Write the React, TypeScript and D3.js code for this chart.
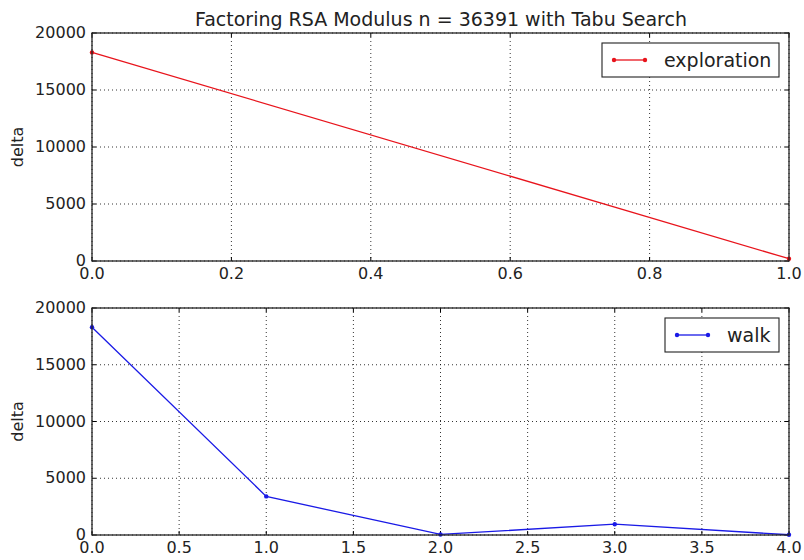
import React from 'react';
import * as d3 from 'd3';

// values
const explorationX = [0, 1];
const explorationY = [18300, 200];
const walkX = [0, 1, 2, 3, 4];
const walkY = [18300, 3400, 50, 950, 20];
const yTicks = [0, 5000, 10000, 15000, 20000];
const topXTicks = [0, 0.2, 0.4, 0.6, 0.8, 1.0];
const bottomXTicks = [0, 0.5, 1, 1.5, 2, 2.5, 3, 3.5, 4];

const W = 804;
const H = 560;
const left = 92;
const right = 789;
const font = 'DejaVu Sans, sans-serif';

type PanelProps = {
  xs: number[];
  ys: number[];
  xDomain: [number, number];
  xTicks: number[];
  top: number;
  bottom: number;
  color: string;
  label: string;
  legendX: number;
};

const Panel = ({ xs, ys, xDomain, xTicks, top, bottom, color, label, legendX }: PanelProps) => {
  const x = d3.scaleLinear().domain(xDomain).range([left, right]);
  const y = d3.scaleLinear().domain([0, 20000]).range([bottom, top]);
  const pts = xs.map((v, i) => [v, ys[i]] as [number, number]);
  const line = d3.line<[number, number]>().x(d => x(d[0])).y(d => y(d[1]));
  const legendY = top + 10;
  const legendW = right - 10 - legendX;

  return (
    <g>
      {/* grid */}
      {xTicks.map(t => (
        <line key={'gx' + t} x1={x(t)} x2={x(t)} y1={top} y2={bottom}
          stroke="#000" strokeWidth={0.8} strokeDasharray="1,3" />
      ))}
      {yTicks.map(t => (
        <line key={'gy' + t} x1={left} x2={right} y1={y(t)} y2={y(t)}
          stroke="#000" strokeWidth={0.8} strokeDasharray="1,3" />
      ))}
      {/* ticks, pointing inward on all sides */}
      {xTicks.map(t => (
        <g key={'tx' + t}>
          <line x1={x(t)} x2={x(t)} y1={bottom} y2={bottom - 4} stroke="#000" />
          <line x1={x(t)} x2={x(t)} y1={top} y2={top + 4} stroke="#000" />
          <text x={x(t)} y={bottom + 18} fontSize={16} textAnchor="middle" fontFamily={font} fill="#222">
            {t.toFixed(1)}
          </text>
        </g>
      ))}
      {yTicks.map(t => (
        <g key={'ty' + t}>
          <line x1={left} x2={left + 4} y1={y(t)} y2={y(t)} stroke="#000" />
          <line x1={right} x2={right - 4} y1={y(t)} y2={y(t)} stroke="#000" />
          <text x={left - 6} y={y(t) + 5} fontSize={16} textAnchor="end" fontFamily={font} fill="#222">
            {t}
          </text>
        </g>
      ))}
      <text transform={`translate(23,${(top + bottom) / 2}) rotate(-90)`} fontSize={16}
        textAnchor="middle" fontFamily={font} fill="#222">delta</text>
      {/* series */}
      <path d={line(pts) ?? ''} fill="none" stroke={color} strokeWidth={1.3} />
      {pts.map((p, i) => (
        <circle key={i} cx={x(p[0])} cy={y(p[1])} r={2.2} fill={color} />
      ))}
      {/* frame */}
      <rect x={left} y={top} width={right - left} height={bottom - top} fill="none" stroke="#222" strokeWidth={1.3} />
      {/* legend */}
      <rect x={legendX} y={legendY} width={legendW} height={34} fill="#fff" stroke="#222" strokeWidth={1.1} />
      <line x1={legendX + 12} x2={legendX + 43} y1={legendY + 17} y2={legendY + 17} stroke={color} strokeWidth={1.3} />
      <circle cx={legendX + 12} cy={legendY + 17} r={2.2} fill={color} />
      <circle cx={legendX + 43} cy={legendY + 17} r={2.2} fill={color} />
      <text x={legendX + 62} y={legendY + 24} fontSize={19} fontFamily={font} fill="#222">{label}</text>
    </g>
  );
};

export default function App() {
  return (
    <svg width={W} height={H} style={{ position: 'absolute', left: 0, top: 0, background: '#fff' }}>
      <rect width={W} height={H} fill="#fff" />
      <text x={441} y={26} fontSize={19} textAnchor="middle" fontFamily={font} fill="#222">
        Factoring RSA Modulus n = 36391 with Tabu Search
      </text>
      <Panel xs={explorationX} ys={explorationY} xDomain={[0, 1]} xTicks={topXTicks}
        top={33} bottom={261} color="#e8141c" label="exploration" legendX={602} />
      <Panel xs={walkX} ys={walkY} xDomain={[0, 4]} xTicks={bottomXTicks}
        top={308} bottom={535} color="#1a1ae6" label="walk" legendX={665} />
    </svg>
  );
}
